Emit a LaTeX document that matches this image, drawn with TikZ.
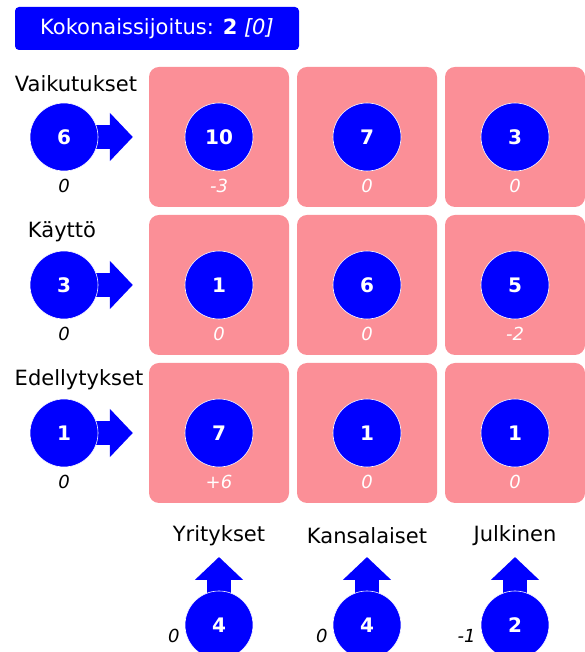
\documentclass[tikz,border=0pt]{standalone}
\usepackage{fontspec}
\setmainfont{DejaVu Sans}
\usetikzlibrary{arrows.meta,backgrounds,calc}
\definecolor{kblue}{RGB}{0,0,255}
\definecolor{kpink}{RGB}{251,143,151}

\begin{document}
\begin{tikzpicture}[x=1pt,y=1pt,
  cell/.style={fill=kpink,rounded corners=10pt,minimum size=140pt,inner sep=0pt},
  ball/.style={circle,fill=kblue,draw=white,line width=0.6pt,minimum size=68pt,inner sep=0pt,text=white,font=\fontsize{20}{22}\selectfont\bfseries},
  num/.style={font=\fontsize{18}{20}\selectfont\itshape},
  lbl/.style={font=\fontsize{21}{24}\selectfont},
  flow/.style={kblue,line width=24pt,-{Triangle[width=47pt,length=23pt]}}]
  \useasboundingbox (0,0) rectangle (584,652);
  \node[fill=kblue,rounded corners=4pt,minimum width=284pt,minimum height=43pt,text=white,lbl] (title) at (157,623.5) {Kokonaissijoitus: \textbf{2} \textit{[0]}};
  \foreach \r/\y/\name/\lx/\v in {1/515/Vaikutukset/76/6, 2/367/Käyttö/62/3, 3/219/Edellytykset/79/1} {
    \node[lbl] (h\r) at (\lx,\y+53) {\name};
    \node[ball] (l\r) at (64,\y) {\v};
    \node[num] (m\r) at ($(l\r)+(0,-49)$) {0};
  }
  \foreach \r/\c/\v/\d in {1/1/10/-3, 1/2/7/0, 1/3/3/0, 2/1/1/0, 2/2/6/0, 2/3/5/-2, 3/1/7/+6, 3/2/1/0, 3/3/1/0} {
    \node[cell] (c\r\c) at ({71+148*\c},{663-148*\r}) {};
    \node[ball] (k\r\c) at (c\r\c) {\v};
    \node[num,text=white] (d\r\c) at ($(k\r\c)+(0,-49)$) {\d};
  }
  \foreach \c/\v/\d/\name in {1/4/0/Yritykset, 2/4/0/Kansalaiset, 3/2/-1/Julkinen} {
    \node[lbl] (t\c) at ({71+148*\c},116) {\name};
    \node[ball] (b\c) at ({71+148*\c},27) {\v};
    \node[num,anchor=east] (e\c) at ($(b\c)+(-36,-11)$) {\d};
    \coordinate (p\c) at ($(b\c)+(0,68)$);
  }
  \begin{scope}[on background layer]
    \foreach \r in {1,2,3} \draw[flow,shorten >=16pt] (l\r.center) -- (c\r1.west);
    \foreach \c in {1,2,3} \draw[flow] (b\c.center) -- (p\c);
  \end{scope}
\end{tikzpicture}
\end{document}
